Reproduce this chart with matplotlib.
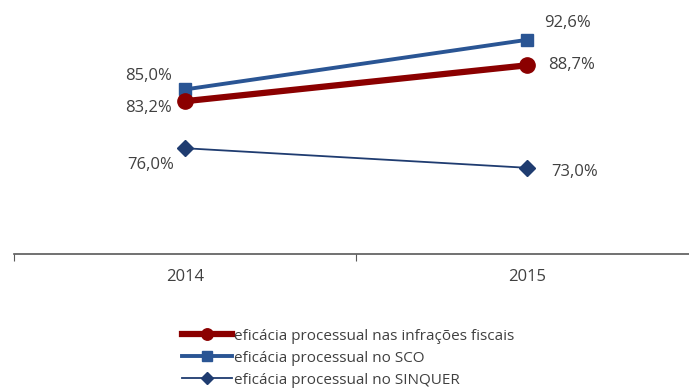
import matplotlib
matplotlib.use("Agg")
import matplotlib.pyplot as plt

plt.rcParams["font.family"] = ["Open Sans", "DejaVu Sans"]

anos = ["2014", "2015"]
infracoes = [83.2, 88.7]
sco = [85.0, 92.6]
sinquer = [76.0, 73.0]

nomes = ["eficácia processual nas infrações fiscais",
         "eficácia processual no SCO",
         "eficácia processual no SINQUER"]

# deslocamento dos rótulos (pontos) para cada série / ano
desl_infracoes = [(-26, -4.7), (32, 0)]
desl_sco = [(-26, 9.4), (29, 12.2)]
desl_sinquer = [(-24.5, -12.2), (34, -2.9)]


def fmt(v):
    return f"{v:.1f}%".replace(".", ",")


fig = plt.figure(figsize=(6.89, 3.9), dpi=100)
ax = fig.add_axes([14 / 689, 136 / 390, 684 / 689, 254 / 390])

x = [0.5, 1.5]
ax.plot(x, sinquer, color="#1f3c70", lw=1.3, marker="D", ms=8.5,
        label=nomes[2], zorder=3)
ax.plot(x, sco, color="#2a5594", lw=2.8, marker="s", ms=9,
        label=nomes[1], zorder=4)
ax.plot(x, infracoes, color="#8b0000", lw=4.5, marker="o", ms=11,
        label=nomes[0], zorder=5)

for serie, desl in [(infracoes, desl_infracoes), (sco, desl_sco),
                    (sinquer, desl_sinquer)]:
    for xi, v, d in zip(x, serie, desl):
        ax.annotate(fmt(v), (xi, v), xytext=d, textcoords="offset points",
                    ha="center", va="center", fontsize=12, color="#404040")

ax.set_xlim(0, 2)
ax.set_ylim(59.8, 98.7)
ax.set_xticks([0, 1, 2])
ax.set_xticklabels([])
ax.set_xticks(x, minor=True)
ax.set_xticklabels(anos, minor=True)
ax.tick_params(axis="x", which="major", length=5, color="#595959")
ax.tick_params(axis="x", which="minor", length=0, pad=11,
               labelsize=12, labelcolor="#404040")
ax.set_yticks([])
for s in ["top", "right", "left"]:
    ax.spines[s].set_visible(False)
ax.spines["bottom"].set_color("#595959")
ax.spines["bottom"].set_linewidth(1.2)

h, l = ax.get_legend_handles_labels()
fig.legend(h[::-1], l[::-1], loc="upper left",
           bbox_to_anchor=(168 / 689, 1 - 315 / 390), frameon=False,
           fontsize=11, handlelength=3.3, handletextpad=0.1,
           labelspacing=0.45, markerscale=0.75, labelcolor="#404040")

fig.savefig("out.png", dpi=100)
